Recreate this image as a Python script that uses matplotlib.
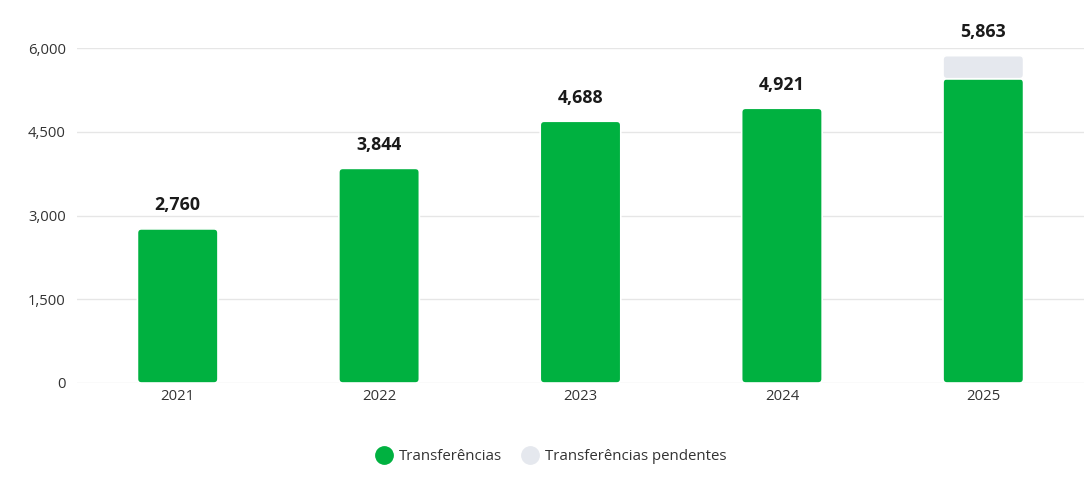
import matplotlib
matplotlib.use("Agg")
import matplotlib.pyplot as plt
from matplotlib.patches import FancyBboxPatch
from matplotlib.lines import Line2D
from matplotlib.ticker import FuncFormatter

plt.rcParams['font.family'] = ['Open Sans', 'DejaVu Sans']

years = ["2021", "2022", "2023", "2024", "2025"]
transfers = [2760, 3844, 4688, 4921, 5450]
pending = [0, 0, 0, 0, 413]
totals = [2760, 3844, 4688, 4921, 5863]
yticks = [0, 1500, 3000, 4500, 6000]

GREEN = "#00b140"
GREY = "#e5e8ee"

W, H = 1091, 488
fig = plt.figure(figsize=(W / 100, H / 100), dpi=100)
ax = fig.add_axes([77 / W, 1 - 383 / H, (1084 - 77) / W, (383 - 48) / H])
ax.set_xlim(-0.5, 4.5)
ax.set_ylim(0, 6000)

x = list(range(len(years)))
bw = 0.4
b1 = ax.bar(x, transfers, width=bw, color=GREEN)
b2 = ax.bar(x, pending, width=bw, bottom=transfers, color=GREY)

# replace with rounded patches
xpp = 5 / 1007
ypp = 6000 / 335
aspect = ypp / xpp
rad = 4 * xpp
for bars in (b1, b2):
    for r in bars:
        h = r.get_height()
        if h <= 0:
            r.remove()
            continue
        p = FancyBboxPatch((r.get_x(), r.get_y()), r.get_width(), h,
                           boxstyle=f"round,pad=0,rounding_size={rad}",
                           mutation_aspect=aspect, facecolor=r.get_facecolor(),
                           edgecolor="white", linewidth=1.2, zorder=3)
        ax.add_patch(p)
        r.remove()

for xi, t in zip(x, totals):
    ax.annotate(f"{t:,}", (xi, t), xytext=(0, 17), textcoords="offset points",
                ha="center", va="center", fontsize=12.8, fontweight="bold",
                color="#1a1a1a", annotation_clip=False)

ax.set_yticks(yticks)
ax.yaxis.set_major_formatter(FuncFormatter(lambda v, p: f"{int(v):,}"))
ax.set_xticks(x)
ax.set_xticklabels(years)
ax.grid(axis="y", color="#e6e6e6", linewidth=1, zorder=0)
ax.set_axisbelow(True)
for s in ax.spines.values():
    s.set_visible(False)
ax.tick_params(axis="both", length=0, labelsize=10.7, labelcolor="#333333")
ax.tick_params(axis="y", pad=8)
ax.tick_params(axis="x", pad=4)

handles = [Line2D([], [], marker="o", linestyle="", markersize=12.5, color=GREEN),
           Line2D([], [], marker="o", linestyle="", markersize=12.5, color=GREY)]
fig.legend(handles, ["Transferências", "Transferências pendentes"], loc="center",
           bbox_to_anchor=(0.502, 1 - 457 / H), ncol=2, frameon=False,
           fontsize=10.8, handletextpad=0.0, columnspacing=0.85, labelcolor="#333333")

fig.savefig("out.png", dpi=100)
